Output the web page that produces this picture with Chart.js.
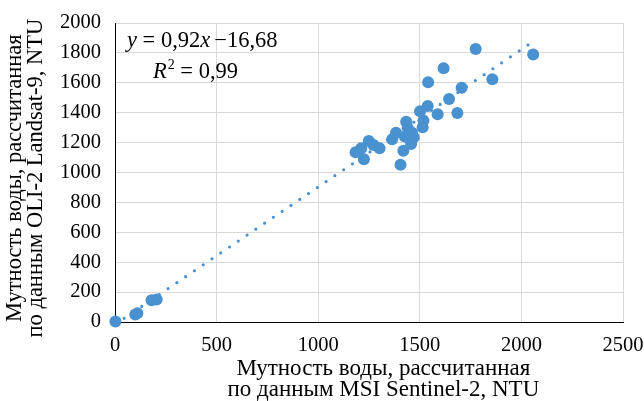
<!DOCTYPE html>
<html>
<head>
<meta charset="utf-8">
<title>Мутность воды: MSI Sentinel-2 и OLI-2 Landsat-9</title>
<script src="https://cdn.jsdelivr.net/npm/chart.js@4.4.1/dist/chart.umd.min.js"></script>
<style>
  html, body { margin: 0; padding: 0; background: #fff; }
  #wrap { width: 644px; height: 401px; }
</style>
</head>
<body>
<div id="wrap"><canvas id="myChart" width="644" height="401"></canvas></div>
<script>
// мутность по MSI Sentinel-2 (ось X) и по OLI-2 Landsat-9 (ось Y), NTU
const msiValues = [2, 100, 110, 180, 205, 1184, 1212, 1225, 1249, 1272, 1302, 1364, 1383, 1405,
  1419, 1426, 1433, 1440, 1450, 1457, 1462, 1470, 1501, 1514, 1518, 1539, 1541, 1588, 1617,
  1644, 1685, 1706, 1775, 1857, 2058];
const oliValues = [3, 50, 58, 145, 150, 1135, 1162, 1088, 1211, 1184, 1162, 1222, 1266, 1052,
  1146, 1240, 1340, 1300, 1225, 1191, 1266, 1235, 1409, 1302, 1347, 1445, 1603, 1389, 1697,
  1492, 1398, 1567, 1826, 1623, 1790];

// линейный тренд
const slope = 0.92;
const intercept = -16.68;
const rSquared = '0,99';

const xTicks = [0, 500, 1000, 1500, 2000, 2500];
const yTicks = [0, 200, 400, 600, 800, 1000, 1200, 1400, 1600, 1800, 2000];

const blue = '#4a91d0';
const serif = "'Liberation Serif', 'DejaVu Serif', serif";
const enSpace = '\u2002';

const points = msiValues.map((x, i) => ({ x: x, y: oliValues[i] }));
const xMin = Math.min(...msiValues);
const xMax = Math.max(...msiValues);
const trend = [
  { x: xMin, y: slope * xMin + intercept },
  { x: xMax, y: slope * xMax + intercept }
];

// подпись с уравнением тренда
const equationLabel = {
  id: 'equationLabel',
  afterDatasetsDraw(chart) {
    const ctx = chart.ctx;
    const a = chart.chartArea;
    const fmt = v => Math.abs(v).toFixed(2).replace('.', ',');
    const size = 22.5;
    ctx.save();
    ctx.fillStyle = '#000';
    ctx.textBaseline = 'alphabetic';
    let x = a.left + 12;
    let y = a.top + 24;
    const parts = [
      ['italic', 'y'], ['normal', ' = ' + fmt(slope)], ['italic', 'x']
    ];
    parts.forEach(p => {
      ctx.font = p[0] + ' ' + size + 'px ' + serif;
      ctx.fillText(p[1], x, y);
      x += ctx.measureText(p[1]).width;
    });
    ctx.font = 'normal ' + size + 'px ' + serif;
    ctx.fillText((intercept < 0 ? '\u2212' : '+') + fmt(intercept), x + 4, y);

    x = a.left + 38;
    y = a.top + 55;
    ctx.font = 'italic ' + size + 'px ' + serif;
    ctx.fillText('R', x, y);
    x += ctx.measureText('R').width;
    ctx.font = 'normal 14px ' + serif;
    ctx.fillText('2', x + 1, y - 9);
    x += ctx.measureText('2').width + 1;
    ctx.font = 'normal ' + size + 'px ' + serif;
    ctx.fillText(' = ' + rSquared, x, y);
    ctx.restore();
  }
};

const ctx = document.getElementById('myChart').getContext('2d');
const myChart = new Chart(ctx, {
  type: 'scatter',
  data: {
    datasets: [{
      label: 'trend',
      type: 'line',
      data: trend,
      borderColor: blue,
      borderWidth: 3.2,
      borderDash: [0, 10.6],
      borderCapStyle: 'round',
      pointRadius: 0,
      fill: false,
      order: 2
    }, {
      label: 'NTU',
      data: points,
      backgroundColor: blue,
      borderColor: blue,
      borderWidth: 0,
      pointRadius: 6,
      clip: false,
      order: 1
    }]
  },
  plugins: [equationLabel],
  options: {
    responsive: false,
    animation: false,
    layout: { padding: { top: 23, right: 21, left: 0, bottom: 0 } },
    plugins: { legend: { display: false }, tooltip: { enabled: false } },
    scales: {
      x: {
        type: 'linear',
        min: 0,
        max: 2500,
        afterBuildTicks: s => { s.ticks = xTicks.map(v => ({ value: v })); },
        afterFit: s => { s.height = 79; s.paddingRight = 0; s.paddingLeft = 0; },
        grid: { color: '#d9d9d9', lineWidth: 1, drawTicks: false },
        border: { color: '#000', width: 1 },
        ticks: {
          color: '#000', padding: 11, font: { family: serif, size: 20.5 },
          callback: v => String(v)
        },
        title: {
          display: true,
          // подпись чуть смещена вправо от центра оси
          text: [enSpace + enSpace + ' Мутность воды, рассчитанная',
                 enSpace + enSpace + ' по данным MSI Sentinel-2, NTU'],
          color: '#000',
          font: { family: serif, size: 23, lineHeight: '21.5px' },
          padding: { top: 0, bottom: 0 }
        }
      },
      y: {
        type: 'linear',
        min: 0,
        max: 2000,
        afterBuildTicks: s => { s.ticks = yTicks.map(v => ({ value: v })); },
        afterFit: s => { s.width = 115; s.paddingTop = 0; s.paddingBottom = 0; },
        grid: { color: '#d9d9d9', lineWidth: 1, drawTicks: false },
        border: { color: '#000', width: 1 },
        ticks: {
          color: '#000', padding: 14, font: { family: serif, size: 20.5 },
          callback: v => String(v)
        },
        title: {
          display: true,
          text: ['Мутность воды, рассчитанная' + enSpace,
                 'по данным OLI-2 Landsat-9, NTU' + enSpace],
          color: '#000',
          font: { family: serif, size: 22.5, lineHeight: '21.5px' },
          padding: { top: 4, bottom: 0 }
        }
      }
    }
  }
});
</script>
</body>
</html>
